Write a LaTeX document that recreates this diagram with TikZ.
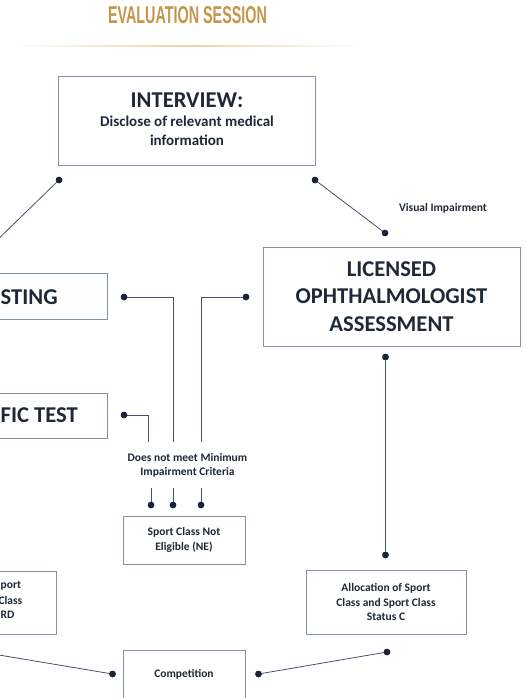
\documentclass[tikz,border=0pt]{standalone}
\usepackage{fontspec}
\setmainfont{Carlito}
\newfontfamily\titlefont{Liberation Sans}
\definecolor{txt}{HTML}{1E2837}
\definecolor{gold}{HTML}{C4954A}
\definecolor{goldline}{HTML}{EBD2A6}
\definecolor{boxline}{HTML}{8293A8}
\definecolor{conn}{HTML}{46526A}
\definecolor{dotc}{HTML}{1A2436}
\tikzset{
  box/.style={draw=boxline, line width=0.9pt, rectangle, inner sep=0pt, text=txt, font=\bfseries, align=center},
  bigtext/.style={font=\bfseries\fontsize{22.6}{27.5}\selectfont},
  midtext/.style={font=\bfseries\fontsize{15}{18}\selectfont, text=txt, inner sep=0pt},
  smalltext/.style={font=\bfseries\fontsize{11.5}{14.3}\selectfont, text=txt, align=center, inner sep=0pt},
  dotn/.style={circle, fill=dotc, inner sep=0pt, minimum size=6.5pt},
  conline/.style={draw=conn, line width=0.8pt},
}
\begin{document}
\begin{tikzpicture}[x=1pt,y=-1pt]
\useasboundingbox (0,0) rectangle (525,698);
\clip (0,0) rectangle (525,698);
% title
\node[text=gold, inner sep=0pt] (title) at (187.5,15.5) {\resizebox{159pt}{17pt}{\titlefont\bfseries EVALUATION SESSION}};
\shade[left color=white, right color=goldline] (14,45.5) rectangle (188,46.5);
\shade[left color=goldline, right color=white] (188,45.5) rectangle (362,46.5);
% boxes
\node[box, minimum width=257pt, minimum height=89pt] (interview) at (186.5,120.5) {};
\node[text=txt, bigtext, anchor=base, inner sep=0pt] (int1) at (187,108) {INTERVIEW:};
\node[midtext, anchor=base] (int2) at (187,127) {Disclose of relevant medical};
\node[midtext, anchor=base] (int3) at (187,145) {information};
\node[box, bigtext, minimum width=257pt, minimum height=99pt] (licensed) at (391.5,296.5)
  {LICENSED\\OPHTHALMOLOGIST\\ASSESSMENT};
\node[box, minimum width=200pt, minimum height=46pt] (sting) at (7,296) {};
\node[text=txt, bigtext, anchor=west, inner sep=0pt] (stingtext) at (0.5,297) {STING};
\node[box, minimum width=200pt, minimum height=45pt] (fic) at (7,415.5) {};
\node[text=txt, bigtext, anchor=west, inner sep=0pt] (fictext) at (0.5,415) {FIC TEST};
\node[box, smalltext, minimum width=122pt, minimum height=48pt] (ne) at (184,540) {Sport Class Not\\Eligible (NE)};
\node[box, smalltext, minimum width=160pt, minimum height=64pt] (alloc) at (386,602) {Allocation of Sport\\Class and Sport Class\\Status C};
\node[box, minimum width=160pt, minimum height=63pt] (allocl) at (-24,602.5) {};
\node[smalltext, anchor=west] (al1) at (0.5,586) {port};
\node[smalltext, anchor=east] (al2) at (22.5,600.5) {Class};
\node[smalltext, anchor=west] (al3) at (0.5,614.5) {RD};
\node[box, minimum width=122pt, minimum height=56pt] (comp) at (184,678) {};
\node[smalltext] (comptext) at (184,674) {Competition};
% labels
\node[smalltext] (vi) at (443,208) {Visual Impairment};
\node[smalltext] (dnm) at (187.5,465.5) {Does not meet Minimum\\Impairment Criteria};
% dots
\node[dotn] (dIL) at (59,180) {};
\node[dotn] (dIR) at (315,180) {};
\node[dotn] (dVI) at (385,233) {};
\node[dotn] (dS1) at (124,297) {};
\node[dotn] (dS2) at (246,297) {};
\node[dotn] (dF) at (124,415) {};
\node[dotn] (dL1) at (385.5,357) {};
\node[dotn] (dL2) at (385.5,555) {};
\node[dotn] (dN1) at (151,505) {};
\node[dotn] (dN2) at (173,505) {};
\node[dotn] (dN3) at (201,505) {};
\node[dotn] (dC1) at (112.5,674) {};
\node[dotn] (dC2) at (258.5,674) {};
\node[dotn] (dA) at (387,652) {};
% coordinates
\coordinate (cIL) at (-10,247);
\coordinate (cS1) at (173,442);
\coordinate (cS2) at (201,442);
\coordinate (cF) at (148,442);
\coordinate (cT1) at (151,488);
\coordinate (cT2) at (173,488);
\coordinate (cT3) at (201,488);
\coordinate (cCL) at (-10,653.5);
% connectors
\draw[conline] (dIL.center) -- (cIL);
\draw[conline] (dIR.center) -- (dVI.center);
\draw[conline] (dS1.center) -| (cS1);
\draw[conline] (dS2.center) -| (cS2);
\draw[conline] (dF.center) -| (cF);
\draw[conline] (cT1) -- (dN1.center);
\draw[conline] (cT2) -- (dN2.center);
\draw[conline] (cT3) -- (dN3.center);
\draw[conline] (dL1.center) -- (dL2.center);
\draw[conline] (cCL) -- (dC1.center);
\draw[conline] (dC2.center) -- (dA.center);
% redraw dots on top
\foreach \d in {dIL,dIR,dVI,dS1,dS2,dF,dL1,dL2,dN1,dN2,dN3,dC1,dC2,dA}{\fill[dotc] (\d) circle (3.25pt);}
\end{tikzpicture}
\end{document}
